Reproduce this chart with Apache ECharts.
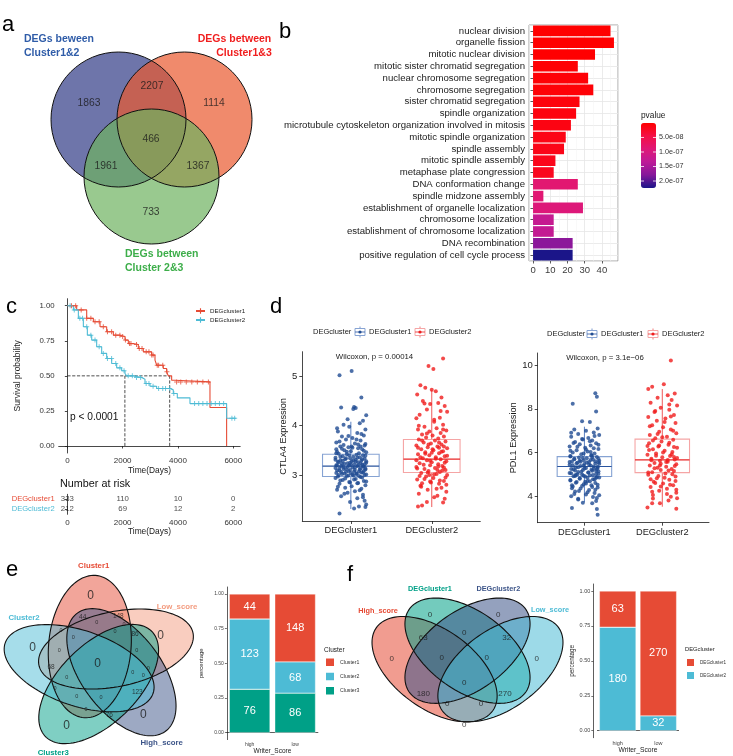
<!DOCTYPE html>
<html><head><meta charset="utf-8"><title>chart</title>
<script src="https://cdn.jsdelivr.net/npm/echarts@6.0.0/dist/echarts.min.js"></script>
<style>html,body{margin:0;padding:0;background:#fff;}#chart{width:733px;height:756px;}</style>
</head><body><div id="chart"></div>
<script>
// ================= DATA =================
// (a) Venn of DEG sets
const vennASets = ['DEGs beween|Cluster1&2', 'DEGs between|Cluster1&3', 'DEGs between|Cluster 2&3'];
const vennACounts = [1863, 2207, 1114, 466, 1961, 1367, 733];

// (b) GO enrichment
const goTerms = ['nuclear division','organelle fission','mitotic nuclear division','mitotic sister chromatid segregation',
  'nuclear chromosome segregation','chromosome segregation','sister chromatid segregation','spindle organization',
  'microtubule cytoskeleton organization involved in mitosis','mitotic spindle organization','spindle assembly',
  'mitotic spindle assembly','metaphase plate congression','DNA conformation change','spindle midzone assembly',
  'establishment of organelle localization','chromosome localization','establishment of chromosome localization',
  'DNA recombination','positive regulation of cell cycle process'];
const goCounts = [45,47,36,26,32,35,27,25,22,19,18,13,12,26,6,29,12,12,23,23];
const goPvalues = [2e-10,3e-10,1e-9,3e-9,4e-9,5e-9,8e-9,1.0e-8,1.2e-8,1.4e-8,1.6e-8,1.8e-8,2.0e-8,
  8.4e-8,8.6e-8,9.2e-8,1.24e-7,1.26e-7,1.74e-7,2.24e-7];
const pLegendTicks = [5e-8, 1e-7, 1.5e-7, 2e-7];
const pLegendLabels = ['5.0e-08','1.0e-07','1.5e-07','2.0e-07'];

// (c) Kaplan-Meier
const kmGroups = ['DEGcluster1','DEGcluster2'];
const km1Time = [0,337,699,940,1181,1422,1663,1904,2084,2205,2386,2566,2747,3048,3169,3229,3470,3590,3650,3771,3892,5157,5759];
const km1Surv = [1.0,0.97,0.91,0.886,0.85,0.814,0.79,0.78,0.755,0.73,0.724,0.695,0.671,0.648,0.612,0.576,0.552,0.529,0.50,0.469,0.457,0.274,0.0];
const km2Time = [0,217,398,578,723,880,1060,1241,1422,1602,1783,1964,2084,2145,2386,2687,2807,2988,3229,3711,3831,3976,4434,5759,6096];
const km2Surv = [1.0,0.97,0.91,0.85,0.79,0.755,0.707,0.66,0.624,0.588,0.557,0.536,0.517,0.50,0.488,0.476,0.445,0.426,0.41,0.40,0.374,0.343,0.302,0.198,0.198];
const km1Censor = [150,300,500,700,850,1000,1150,1300,1450,1600,1750,1900,2000,2100,2250,2300,2500,2600,2700,2850,2950,3050,3100,3250,3300,3450,3600,3950,4100,4300,4500,4700,4900,5100];
const km2Censor = [100,250,450,550,700,850,1000,1150,1300,1450,1600,1750,1900,2050,2200,2350,2500,2650,2850,2950,3100,3300,3450,3550,3700,3850,4600,4750,4900,5050,5200,5350,5500,5650,5950,6050];
const kmMedian = [3700, 2080];
const survTicks = [0, 0.25, 0.5, 0.75, 1];
const riskTimes = [0, 2000, 4000, 6000];
const risk1 = [333, 110, 10, 0];
const risk2 = [212, 69, 12, 2];

// (d) expression boxplots  [min, Q1, median, Q3, max]
const dGroups = ['DEGcluster1','DEGcluster2'];
const ctla4Box = [[2.31,2.97,3.18,3.42,4.08],[2.35,3.05,3.32,3.72,4.72]];
const pdl1Box = [[3.73,4.90,5.36,5.81,7.18],[3.52,5.08,5.66,6.61,8.90]];
const ctla4Ticks = [3,4,5];
const pdl1Ticks = [4,6,8,10];
const ctla4P = 'Wilcoxon, p = 0.00014';
const pdl1P = 'Wilcoxon, p = 3.1e\u221206';
// [jitter, value]
const ctla4G1 = [[-0.14,5.02],[0.01,5.11],[0.13,4.57],[0.04,4.38],[0.06,4.36],[-0.12,4.37],[0.03,4.34],[-0.04,4.13],[0.19,4.21],[0.15,4.10],[-0.09,4.02],[0.11,4.05],[-0.02,3.98],[0.18,3.92],[-0.16,3.88],[0.08,3.85],[0.16,3.80],[-0.11,3.78],[0.02,3.75],[-0.06,3.72],[0.12,3.70],[-0.18,3.66],[0.05,3.64],[0.17,3.60],[-0.13,3.58],[-0.03,3.56],[0.09,3.54],[0.14,3.52],[-0.08,3.50],[0.00,3.48],[-0.17,3.47],[0.19,3.46],
[-0.15,3.43],[-0.05,3.42],[0.07,3.41],[0.15,3.40],[-0.10,3.38],[0.03,3.37],[0.11,3.36],[-0.19,3.35],[-0.01,3.34],[0.17,3.33],[-0.07,3.32],[0.06,3.31],[-0.13,3.30],[0.13,3.29],[0.01,3.28],[-0.16,3.27],[0.09,3.26],[0.19,3.25],[-0.04,3.24],[-0.11,3.23],[0.04,3.22],[0.14,3.21],[-0.18,3.20],[-0.02,3.19],[0.08,3.18],[0.16,3.17],[-0.09,3.16],[0.02,3.15],[-0.14,3.14],[0.12,3.13],[-0.06,3.12],[0.18,3.11],[0.05,3.10],[-0.17,3.09],[-0.03,3.08],[0.10,3.07],[-0.12,3.06],[0.15,3.05],[0.00,3.04],[-0.08,3.03],[0.07,3.02],[0.19,3.01],[-0.15,3.00],[0.03,2.99],[-0.05,2.98],
[0.12,2.96],[-0.19,2.94],[0.06,2.92],[-0.10,2.90],[0.16,2.88],[-0.02,2.86],[0.09,2.84],[-0.14,2.82],[0.18,2.79],[0.01,2.77],[-0.07,2.74],[0.13,2.72],[-0.17,2.70],[0.05,2.67],[-0.04,2.64],[0.15,2.60],[-0.12,2.57],[0.08,2.53],[0.17,2.48],[-0.01,2.45],[0.19,2.40],[0.10,2.36],[0.04,2.32],[-0.14,2.22],
[-0.18,3.44],[0.10,3.44],[-0.02,3.40],[0.18,3.39],[-0.13,3.37],[0.08,3.35],[-0.06,3.34],[0.14,3.32],[-0.19,3.31],[0.03,3.30],[-0.10,3.29],[0.19,3.28],[0.06,3.27],[-0.15,3.26],[-0.01,3.25],[0.12,3.24],[-0.08,3.23],[0.17,3.22],[0.00,3.21],[-0.17,3.20],[0.09,3.19],[-0.12,3.18],[0.15,3.17],[-0.04,3.16],[0.05,3.15],[-0.19,3.14],[0.18,3.13],[-0.09,3.12],[0.11,3.11],[-0.01,3.10],[-0.14,3.09],[0.16,3.08],[0.04,3.07],[-0.06,3.06],[0.13,3.05],[-0.18,3.04],[0.07,3.03],[-0.11,3.02],[0.02,3.01],[0.17,3.00],[-0.03,2.99],[0.10,2.98],[-0.16,2.97],[0.14,2.95],[-0.07,2.93],[0.04,2.91],[-0.13,2.89],[0.19,2.87],[-0.01,2.85],[0.08,2.83],[-0.18,3.52],[0.02,3.55],[0.12,3.58],[-0.09,3.61],[0.18,3.63],[-0.14,3.68],[0.07,3.72],[-0.03,3.79],[0.13,3.83],[-0.17,3.95],[0.09,3.62],[-0.05,3.47],[0.16,3.49],[-0.11,3.53],[0.01,3.58],[-0.16,2.76],[0.11,2.69],[-0.08,2.62],[0.15,2.55],[0.18,2.35]];
const ctla4G2 = [[0.14,5.36],[-0.04,5.21],[0.02,5.15],[-0.14,4.82],[-0.08,4.77],[0.00,4.73],[0.05,4.70],[-0.18,4.63],[0.12,4.57],[-0.11,4.50],[0.08,4.46],[-0.02,4.44],[0.16,4.40],[-0.06,4.33],[0.19,4.28],[-0.15,4.22],[0.10,4.16],[-0.19,4.15],[0.03,4.08],[0.14,4.02],[-0.09,3.98],[0.06,3.95],[-0.17,3.92],[0.18,3.90],[-0.03,3.88],[0.11,3.85],[-0.12,3.82],[0.01,3.80],[0.15,3.78],[-0.07,3.76],[0.08,3.74],
[-0.16,3.72],[0.04,3.70],[0.17,3.68],[-0.10,3.66],[-0.01,3.64],[0.12,3.62],[-0.19,3.60],[0.07,3.58],[-0.05,3.56],[0.19,3.54],[-0.13,3.52],[0.02,3.50],[0.14,3.48],[-0.08,3.46],[0.09,3.44],[-0.17,3.42],[-0.03,3.40],[0.16,3.38],[0.05,3.36],[-0.11,3.34],[0.11,3.32],[-0.06,3.30],[0.18,3.28],[0.00,3.26],[-0.15,3.24],[0.08,3.22],[-0.02,3.20],[0.13,3.18],[-0.19,3.16],[0.04,3.14],[-0.09,3.12],[0.17,3.10],[-0.04,3.08],[0.10,3.06],
[-0.13,3.04],[0.06,3.02],[0.19,3.00],[-0.07,2.97],[0.02,2.94],[-0.18,2.91],[0.15,2.88],[-0.01,2.85],[0.09,2.82],[-0.14,2.78],[0.12,2.74],[-0.05,2.70],[0.18,2.66],[-0.16,2.62],[0.07,2.58],[0.16,2.52],[0.14,2.44],[-0.12,2.38],[-0.17,2.36],[-0.06,2.45],[0.03,2.55],
[-0.12,3.70],[0.09,3.66],[-0.04,3.62],[0.15,3.58],[-0.17,3.55],[0.01,3.52],[0.12,3.47],[-0.08,3.43],[0.19,3.39],[-0.14,3.36],[0.05,3.33],[-0.02,3.29],[0.16,3.25],[-0.10,3.21],[0.08,3.17],[-0.18,3.13],[0.13,3.09],[-0.05,3.05],[0.03,3.01],[-0.15,2.98],[0.17,2.95],[-0.09,2.92],[0.10,2.89],[-0.02,2.87],[0.18,2.80],[-0.13,2.76],[0.06,2.72],[-0.06,3.84],[0.14,3.92],[-0.16,4.00],[0.03,4.12],[0.11,4.30],[-0.09,4.45],[0.07,3.10],[-0.03,3.00],[0.15,3.15],[-0.19,3.30],[0.00,3.45],[0.09,3.55],[-0.12,2.83]];
const pdl1G1 = [[0.14,8.71],[0.16,8.55],[-0.15,8.23],[0.15,7.87],[-0.03,7.43],[0.07,7.40],[0.17,7.10],[-0.13,7.05],[0.02,7.00],[0.12,6.92],[-0.08,6.85],[0.19,6.80],[-0.17,6.72],[0.05,6.66],[-0.02,6.60],[0.10,6.55],[-0.12,6.48],[0.15,6.42],[-0.06,6.38],[0.08,6.32],[-0.19,6.28],[0.01,6.22],[0.18,6.16],[-0.10,6.10],[0.04,6.05],[-0.15,6.00],[0.13,5.96],[-0.04,5.92],[0.09,5.88],[-0.18,5.84],
[0.16,5.80],[-0.07,5.77],[0.03,5.74],[-0.13,5.71],[0.11,5.68],[-0.01,5.65],[0.19,5.62],[-0.16,5.59],[0.06,5.56],[-0.09,5.53],[0.14,5.50],[0.00,5.47],[-0.19,5.44],[0.08,5.41],[-0.05,5.38],[0.17,5.35],[-0.11,5.32],[0.02,5.29],[0.12,5.26],[-0.14,5.23],[-0.02,5.20],[0.10,5.17],[0.18,5.14],[-0.08,5.11],[0.05,5.08],[-0.17,5.05],[0.15,5.02],[-0.03,4.99],[0.07,4.96],[-0.12,4.93],[0.01,4.90],
[0.19,4.86],[-0.06,4.82],[0.11,4.78],[-0.18,4.74],[0.04,4.70],[-0.10,4.65],[0.14,4.60],[-0.01,4.55],[0.09,4.50],[-0.15,4.45],[0.17,4.40],[-0.05,4.35],[0.06,4.28],[-0.12,4.22],[0.13,4.15],[0.02,4.08],[-0.17,4.00],[0.16,3.92],[-0.08,3.85],[0.15,3.78],[-0.16,3.46],[0.16,3.42],[0.17,3.15],[-0.02,3.70],[0.10,3.68],
[-0.18,5.82],[0.10,5.79],[-0.02,5.75],[0.18,5.72],[-0.13,5.69],[0.08,5.66],[-0.06,5.63],[0.14,5.60],[-0.19,5.57],[0.03,5.54],[-0.10,5.51],[0.19,5.48],[0.06,5.45],[-0.15,5.42],[-0.01,5.39],[0.12,5.36],[-0.08,5.33],[0.17,5.30],[0.00,5.27],[-0.17,5.24],[0.09,5.21],[-0.12,5.18],[0.15,5.15],[-0.04,5.12],[0.05,5.09],[-0.19,5.06],[0.18,5.03],[-0.09,5.00],[0.11,4.97],[-0.01,4.94],[-0.14,4.91],[0.16,4.88],[0.04,4.84],[-0.06,4.80],[0.13,4.76],[-0.18,4.72],[0.07,4.68],[-0.11,4.62],[0.02,4.58],[0.17,4.52],[-0.03,4.47],[0.10,4.42],[-0.16,4.37],[0.14,4.30],[-0.07,4.24],[0.04,4.18],[-0.13,4.10],[0.19,4.04],[-0.01,5.95],[0.08,6.02],[-0.18,6.08],[0.02,6.14],[0.12,6.20],[-0.09,6.26],[0.18,6.35],[-0.14,6.44],[0.07,6.52],[-0.03,6.62],[0.13,6.75],[-0.17,6.90],[0.09,5.86],[-0.05,5.58],[0.16,5.25],[-0.11,4.98],[0.01,4.66],[-0.16,4.50],[0.11,3.96],[-0.08,3.88],[0.15,4.85],[0.18,5.55]];
const pdl1G2 = [[0.11,10.21],[0.02,9.12],[-0.13,9.01],[-0.18,8.90],[0.16,8.70],[0.07,8.62],[-0.06,8.50],[0.12,8.40],[-0.15,8.28],[0.19,8.15],[-0.02,8.05],[0.09,7.95],[-0.10,7.85],[0.15,7.72],[-0.18,7.62],[0.04,7.55],[-0.07,7.45],[0.17,7.35],[-0.13,7.25],[0.01,7.15],[0.11,7.05],[-0.04,6.95],[0.18,6.88],[-0.16,6.80],[0.06,6.72],[-0.09,6.65],
[0.14,6.58],[-0.01,6.50],[-0.17,6.42],[0.08,6.35],[-0.05,6.28],[0.19,6.22],[-0.12,6.15],[0.03,6.08],[0.13,6.02],[-0.08,5.96],[-0.19,5.90],[0.10,5.84],[0.00,5.78],[-0.14,5.72],[0.16,5.68],[-0.03,5.62],[0.07,5.58],[-0.10,5.52],[0.18,5.46],[-0.16,5.40],[0.05,5.35],[-0.06,5.30],[0.12,5.25],[-0.02,5.20],[0.15,5.15],[-0.13,5.10],
[0.04,5.04],[-0.18,4.98],[0.17,4.90],[-0.07,4.82],[0.09,4.75],[-0.11,4.66],[0.01,4.58],[0.14,4.50],[-0.15,4.42],[0.06,4.34],[-0.04,4.25],[0.18,4.16],[-0.12,4.06],[0.11,3.98],[0.19,3.91],[-0.13,3.68],[-0.03,3.68],[-0.19,3.49],[0.18,3.43],[0.08,3.80],
[-0.12,6.55],[0.09,6.45],[-0.04,6.32],[0.15,6.25],[-0.17,6.12],[0.01,6.00],[0.12,5.92],[-0.08,5.85],[0.19,5.75],[-0.14,5.64],[0.05,5.56],[-0.02,5.48],[0.16,5.38],[-0.10,5.28],[0.08,5.18],[-0.18,5.08],[0.13,5.00],[-0.05,4.92],[0.03,4.85],[-0.15,4.78],[0.17,4.70],[-0.09,4.60],[0.10,4.52],[-0.02,4.44],[0.18,4.30],[-0.13,4.20],[0.06,4.10],[-0.06,6.85],[0.14,7.00],[-0.16,7.20],[0.03,7.40],[0.11,7.65],[-0.09,7.90],[0.07,5.66],[-0.03,5.40],[0.15,5.80],[-0.19,6.30],[0.00,6.70],[0.09,8.20],[-0.12,3.90]];

// (e) 5-set Venn and stacked bars
const eSets = ['Cluster1','Low_score','High_score','Cluster3','Cluster2'];
const eRegionCounts = [0,0,0,0,0,0, 44,148,86,68,123,76, 0,0,0,0,0,0,0,0,0,0,0,0,0,0,0];
const scoreGroups = ['high','low'];
const pctTicks = [0, 0.25, 0.5, 0.75, 1];
const eClusters = ['Cluster1','Cluster2','Cluster3'];
const eHighCounts = [44, 123, 76];
const eLowCounts = [148, 68, 86];

// (f) 4-set Venn and stacked bars
const fSets = ['High_score','DEGcluster1','DEGcluster2','Low_score'];
const fRegionCounts = [0,0,0,0,63,0,32,0,0,180,0,270,0,0,0];
const fClusters = ['DEGcluster1','DEGcluster2'];
const fHighCounts = [63, 180];
const fLowCounts = [270, 32];

// ================= LAYOUT / STYLE =================
const FONT = '"Liberation Sans", Arial, Helvetica, sans-serif';
const RED = '#E64B35', CYAN = '#4DBBD5', TEAL = '#00A087', NAVY = '#3C5488', PEACH = '#F39B7F';
const grids = [], xAxes = [], yAxes = [], series = [], graphics = [];
const add = (arr, o) => (arr.push(o), arr.length - 1);
const hiddenVal = (g, min, max, inv) => ({gridIndex: g, type: 'value', min, max, inverse: !!inv, show: false});
function txt(x, y, text, size, opt) {
  opt = opt || {};
  return {type: 'text', x, y, rotation: opt.rot || 0, silent: true, z: 100,
    style: {text, fill: opt.color || '#1a1a1a', font: (opt.bold ? 'bold ' : '') + size + 'px ' + FONT,
      align: opt.align || 'left', verticalAlign: 'middle'}};
}
const AX = '#1a1a1a';

// pixel-space helper grid for venn label placement
const gP = add(grids, {left: 0, top: 0, width: 733, height: 756});
const xP = add(xAxes, hiddenVal(gP, 0, 733));
const yP = add(yAxes, hiddenVal(gP, 0, 756, true));
function labelSeries(counts, pos, fontSizeFn) {
  return {type: 'scatter', xAxisIndex: xP, yAxisIndex: yP, silent: true, z: 6, clip: false, symbolSize: 1,
    itemStyle: {color: 'rgba(0,0,0,0)'},
    data: counts.map((n, i) => ({value: [pos[i][0], pos[i][1]], n})),
    label: {show: true, position: 'inside', color: '#1a1a1a', formatter: p => String(p.data.n), fontSize: 11},
    labelLayout: p => ({fontSize: fontSizeFn(p.dataIndex)})};
}

// ---------- panel letters ----------
[['a',2,25.3],['b',279,32.3],['c',6,307.3],['d',270,307.3],['e',6,570.3],['f',347,575.3]]
  .forEach(l => graphics.push(txt(l[1], l[2], l[0], 22, {color: '#000'})));

// ---------- (a) ----------
const layA = {centers: [[118.5,119.5],[184.5,119.5],[151.5,176.5]], r: 67.5,
  fills: ['rgba(48,59,134,0.7)','rgba(233,88,45,0.7)','rgba(109,178,95,0.7)'],
  regionPos: [[89,103],[152,86],[214,103],[151,139],[106,166],[198,166],[151,212]],
  titlePos: [[24,39,'left',0],[234.5,39,'center',9.5],[125,254,'left',0]], titleColors: ['#2f5ca8','#f01e1e','#3dae4a']};
['fill','stroke'].forEach(mode => series.push({type: 'custom', xAxisIndex: xP, yAxisIndex: yP, silent: true, clip: false,
  z: mode === 'fill' ? 2 : 3, data: layA.centers.map((c, i) => [c[0], c[1], i]),
  renderItem: (p, api) => {
    const c = api.coord([api.value(0), api.value(1)]);
    const r = api.size([layA.r, 0])[0];
    return {type: 'circle', shape: {cx: c[0], cy: c[1], r},
      style: mode === 'fill' ? {fill: layA.fills[p.dataIndex], stroke: null} : {fill: null, stroke: '#111', lineWidth: 1}};
  }}));
series.push(labelSeries(vennACounts, layA.regionPos, () => 10.3));
vennASets.forEach((s, i) => {
  const [l1, l2] = s.split('|'); const tp = layA.titlePos[i];
  graphics.push(txt(tp[0], tp[1], l1, 10.5, {bold: true, color: layA.titleColors[i], align: tp[2]}));
  graphics.push(txt(tp[0] + tp[3], tp[1] + 14, l2, 10.5, {bold: true, color: layA.titleColors[i], align: tp[2]}));
});

// ---------- (b) ----------
const gB = add(grids, {left: 529, top: 25, width: 89, height: 236, show: true, borderColor: '#8c8c8c', borderWidth: 0.8, backgroundColor: '#fff'});
const xB = add(xAxes, {gridIndex: gB, type: 'value', min: -2.35, max: 49.35, splitNumber: 5,
  axisLine: {show: false}, axisTick: {show: true, length: 2.5, lineStyle: {color: '#333', width: 0.8}},
  axisLabel: {fontSize: 9.5, color: '#3a3a3a', margin: 4, showMinLabel: false, showMaxLabel: false},
  splitLine: {show: true, lineStyle: {color: '#e6e6e6', width: 0.8}},
  minorTick: {show: false, splitNumber: 2}, minorSplitLine: {show: true, lineStyle: {color: '#f3f3f3', width: 0.5}}});
const yB = add(yAxes, {gridIndex: gB, type: 'category', data: goTerms, inverse: true,
  axisLine: {show: false}, axisTick: {show: true, alignWithLabel: true, length: 2.5, lineStyle: {color: '#333', width: 0.8}},
  axisLabel: {fontSize: 9.6, color: '#1a1a1a', margin: 4, interval: 0}, splitLine: {show: false}});
add(yAxes, {gridIndex: gB, type: 'value', min: 0.5, max: goTerms.length + 0.5, inverse: true, splitNumber: goTerms.length,
  position: 'right', axisLine: {show: false}, axisTick: {show: false}, axisLabel: {show: false},
  splitLine: {show: true, lineStyle: {color: '#e6e6e6', width: 0.8}}});
const barBIndex = add(series, {type: 'bar', xAxisIndex: xB, yAxisIndex: yB, silent: true, barWidth: '90%', z: 3,
  data: goTerms.map((t, i) => [goCounts[i], i, goPvalues[i]]), encode: {x: 0, y: 1}});
const pMin = Math.min(...goPvalues), pMax = Math.max(...goPvalues);
const pBar = {left: 641, top: 123, w: 15, h: 65};
const pColors = ['#ff0000','#f40f45','#df1877','#bd1a98','#85179a','#1b1589'];
graphics.push(txt(pBar.left, 116, 'pvalue', 8.3, {color: '#1a1a1a'}));
pLegendTicks.forEach((v, i) => {
  const y = pBar.top + (v - pMin) / (pMax - pMin) * pBar.h;
  graphics.push(txt(pBar.left + pBar.w + 3, y, pLegendLabels[i], 7.2, {color: '#333'}));
  graphics.push({type: 'line', silent: true, z: 101, shape: {x1: pBar.left, y1: y, x2: pBar.left + 3, y2: y}, style: {stroke: '#fff', lineWidth: 0.8}});
  graphics.push({type: 'line', silent: true, z: 101, shape: {x1: pBar.left + pBar.w - 3, y1: y, x2: pBar.left + pBar.w, y2: y}, style: {stroke: '#fff', lineWidth: 0.8}});
});

// ---------- (c) ----------
const PLUS = 'path://M4,0H6V4H10V6H6V10H4V6H0V4H4Z';
const kmColors = [RED, CYAN];
const gK = add(grids, {left: 58.7, top: 298.7, width: 181.5, height: 154.3});
const kmX = (g, name, gap) => ({gridIndex: g, type: 'value', min: -313, max: 6250, splitNumber: 3,
  axisLine: {lineStyle: {color: AX, width: 0.8}}, axisTick: {length: 2.5, lineStyle: {color: AX, width: 0.8}},
  axisLabel: {fontSize: 8, color: '#333', margin: 4, showMinLabel: false, showMaxLabel: false, formatter: v => String(v)},
  splitLine: {show: false}, name, nameLocation: 'middle', nameGap: gap, nameTextStyle: {fontSize: 8.4, color: '#1a1a1a'}});
const xK = add(xAxes, kmX(gK, 'Time(Days)', 14));
const yK = add(yAxes, {gridIndex: gK, type: 'value', min: -0.05, max: 1.05,
  axisLine: {show: true, lineStyle: {color: AX, width: 0.8}},
  axisTick: {show: true, length: 2.5, customValues: survTicks, lineStyle: {color: AX, width: 0.8}},
  axisLabel: {customValues: survTicks, formatter: v => Number(v).toFixed(2), fontSize: 7.8, color: '#333', margin: 4},
  splitLine: {show: false}, name: 'Survival probability', nameLocation: 'middle', nameGap: 37,
  nameTextStyle: {fontSize: 8.5, color: '#1a1a1a'}});
function survAt(times, surv, t) { let s = surv[0]; for (let i = 0; i < times.length; i++) { if (times[i] <= t) s = surv[i]; else break; } return s; }
const kmSets = [[km1Time, km1Surv, km1Censor], [km2Time, km2Surv, km2Censor]];
kmSets.forEach((k, gi) => {
  series.push({type: 'line', name: kmGroups[gi], xAxisIndex: xK, yAxisIndex: yK, step: 'end', silent: true,
    showSymbol: false, symbol: PLUS, symbolSize: 6, color: kmColors[gi], lineStyle: {width: 1.1}, z: 4,
    data: k[0].map((t, i) => [t, k[1][i]])});
  series.push({type: 'scatter', xAxisIndex: xK, yAxisIndex: yK, silent: true, symbol: PLUS, symbolSize: 5, z: 5,
    itemStyle: {color: kmColors[gi]}, data: k[2].map(t => [t, survAt(k[0], k[1], t)])});
});
const medDash = {type: 'dashed', width: 0.8, color: '#222'};
series.push({type: 'line', xAxisIndex: xK, yAxisIndex: yK, silent: true, symbol: 'none', lineStyle: medDash, z: 3,
  data: [[0, 0.5], [Math.max(...kmMedian), 0.5]]});
kmMedian.forEach(m => series.push({type: 'line', xAxisIndex: xK, yAxisIndex: yK, silent: true, symbol: 'none',
  lineStyle: medDash, z: 3, data: [[m, 0], [m, 0.5]]}));
graphics.push(txt(70, 417, 'p < 0.0001', 10.2, {color: '#111'}));
// risk table
const gR = add(grids, {left: 58.7, top: 494.3, width: 181.5, height: 20});
const xR = add(xAxes, kmX(gR, 'Time(Days)', 13));
const yR = add(yAxes, {gridIndex: gR, type: 'category', data: kmGroups, inverse: true,
  axisLine: {lineStyle: {color: AX, width: 0.8}}, axisTick: {show: true, alignWithLabel: true, length: 2.5, lineStyle: {color: AX, width: 0.8}},
  axisLabel: {fontSize: 7.6, margin: 4, interval: 0, color: (v, i) => kmColors[i]}});
[risk1, risk2].forEach((r, gi) => series.push({type: 'scatter', xAxisIndex: xR, yAxisIndex: yR, silent: true,
  symbolSize: 1, itemStyle: {color: 'rgba(0,0,0,0)'}, data: riskTimes.map((t, i) => ({value: [t, gi], n: r[i]})),
  label: {show: true, position: 'inside', formatter: p => String(p.data.n), fontSize: 7.8, color: '#1a1a1a'}}));
graphics.push(txt(60, 484, 'Number at risk', 10.8, {color: '#111'}));

// ---------- (d) ----------
const dStyle = {box: ['#86a3d3', '#f5a5a5'], whisk: ['#5a80c2', '#ef5a5a'], med: ['#2a549e', '#e82626'], pts: ['#1f4b92', '#f01c1c']};
function boxPanel(gridPos, yMin, yMax, ticks, yName, nameGap, boxes, g1, g2, ptext, ptextPos) {
  const g = add(grids, gridPos);
  const xi = add(xAxes, {gridIndex: g, type: 'value', min: 0.4, max: 2.6,
    axisLine: {lineStyle: {color: AX, width: 0.8}}, axisTick: {customValues: [1, 2], length: 3, lineStyle: {color: AX, width: 0.8}},
    axisLabel: {customValues: [1, 2], formatter: v => dGroups[Math.round(v) - 1], fontSize: 9.3, color: '#222', margin: 5},
    splitLine: {show: false}});
  const yi = add(yAxes, {gridIndex: g, type: 'value', min: yMin, max: yMax,
    axisLine: {show: true, lineStyle: {color: AX, width: 0.8}},
    axisTick: {show: true, customValues: ticks, length: 3, lineStyle: {color: AX, width: 0.8}},
    axisLabel: {customValues: ticks, fontSize: 9.5, color: '#222', margin: 5},
    splitLine: {show: false}, name: yName, nameLocation: 'middle', nameGap, nameTextStyle: {fontSize: 9.2, color: '#1a1a1a'}});
  series.push({type: 'custom', xAxisIndex: xi, yAxisIndex: yi, silent: true, clip: false, z: 2,
    data: boxes.map((b, i) => [i + 1, ...b]),
    renderItem: (p, api) => {
      const x = api.value(0), k = p.dataIndex;
      const pt = v => api.coord([x, api.value(v)]);
      const mn = pt(1), q1 = pt(2), md = pt(3), q3 = pt(4), mx = pt(5);
      const w = api.size([0.7, 0])[0];
      return {type: 'group', children: [
        {type: 'line', shape: {x1: mx[0], y1: mx[1], x2: q3[0], y2: q3[1]}, style: {stroke: dStyle.whisk[k], lineWidth: 1}},
        {type: 'line', shape: {x1: q1[0], y1: q1[1], x2: mn[0], y2: mn[1]}, style: {stroke: dStyle.whisk[k], lineWidth: 1}},
        {type: 'rect', shape: {x: q3[0] - w / 2, y: q3[1], width: w, height: q1[1] - q3[1]}, style: {fill: null, stroke: dStyle.box[k], lineWidth: 1.1}},
        {type: 'line', shape: {x1: md[0] - w / 2, y1: md[1], x2: md[0] + w / 2, y2: md[1]}, style: {stroke: dStyle.med[k], lineWidth: 1.2}}
      ]};
    }});
  [g1, g2].forEach((pts, gi) => series.push({type: 'scatter', xAxisIndex: xi, yAxisIndex: yi, silent: true, z: 3,
    symbolSize: 4, itemStyle: {color: dStyle.pts[gi]}, data: pts.map(q => [gi + 1 + q[0], q[1]])}));
  graphics.push(txt(ptextPos[0], ptextPos[1], ptext, 7.8, {align: 'center', color: '#1a1a1a'}));
}
boxPanel({left: 302.3, top: 351.7, width: 178, height: 169.3}, 2.067, 5.5, ctla4Ticks, 'CTLA4 Expression', 9,
  ctla4Box, ctla4G1, ctla4G2, ctla4P, [374.5, 356.7]);
boxPanel({left: 537.7, top: 353, width: 171.3, height: 169.7}, 2.79, 10.55, pdl1Ticks, 'PDL1 Expression', 14,
  pdl1Box, pdl1G1, pdl1G2, pdl1P, [605, 357.7]);
function dLegend(x0, y, xs) {
  graphics.push(txt(x0, y, 'DEGcluster', 7.5, {color: '#1a1a1a'}));
  [0, 1].forEach(k => {
    const cx = xs[k];
    graphics.push({type: 'line', silent: true, z: 100, shape: {x1: cx, y1: y - 5.5, x2: cx, y2: y + 5.5}, style: {stroke: dStyle.whisk[k], lineWidth: 0.8}});
    graphics.push({type: 'rect', silent: true, z: 100, shape: {x: cx - 5, y: y - 3.5, width: 10, height: 7}, style: {fill: '#fff', stroke: dStyle.box[k], lineWidth: 1}});
    graphics.push({type: 'line', silent: true, z: 100, shape: {x1: cx - 5, y1: y, x2: cx + 5, y2: y}, style: {stroke: dStyle.med[k], lineWidth: 0.8}});
    graphics.push({type: 'circle', silent: true, z: 101, shape: {cx, cy: y, r: 1.6}, style: {fill: dStyle.pts[k]}});
    graphics.push(txt(cx + 9, y, dGroups[k], 7.5, {color: '#1a1a1a'}));
  });
}
dLegend(313, 332, [360, 420]);
dLegend(547, 334, [592, 653]);

// ---------- ellipse venn helper ----------
function ellipseSeries(xi, yi, ells, fills) {
  ['fill', 'stroke'].forEach(mode => series.push({type: 'custom', xAxisIndex: xi, yAxisIndex: yi, silent: true, clip: false,
    z: mode === 'fill' ? 2 : 3, data: ells.map((e, i) => [e.cx, e.cy, i]),
    renderItem: (p, api) => {
      const e = ells[p.dataIndex]; const ca = Math.cos(e.ang), sa = Math.sin(e.ang); const pts = [];
      for (let k = 0; k < 120; k++) {
        const t = k / 120 * 2 * Math.PI; const ex = e.A * Math.cos(t), ey = e.B * Math.sin(t);
        pts.push(api.coord([e.cx + ex * ca - ey * sa, e.cy + ex * sa + ey * ca]));
      }
      return {type: 'polygon', shape: {points: pts},
        style: mode === 'fill' ? {fill: fills[p.dataIndex], stroke: null} : {fill: null, stroke: '#111', lineWidth: 1.1}};
    }}));
}

// ---------- (e) ----------
const layE = {grid: {left: 15, top: 586.5, width: 172, height: 155}, d: 0.13, A: 0.46, B: 0.24, alpha0: 120, beta0: 86, step: -72,
  fills: ['rgba(230,75,53,0.5)','rgba(243,155,127,0.5)','rgba(60,84,136,0.5)','rgba(0,160,135,0.5)','rgba(77,187,213,0.5)'],
  labelColors: [RED, PEACH, NAVY, TEAL, CYAN],
  labelPos: [[93.7,566],[177,606.7],[161.7,742.7],[53.3,752.7],[24,617.7]],
  regionPos: [[90.7,596],[160.7,636],[32.7,648],[97.7,664],[143.3,715],[66.7,725.7],
    [82.7,617.7],[118.3,616.7],[135,634],[51,667.3],[137.3,692.3],[109.3,715],
    [61,630],[73.3,637.3],[96.7,622.7],[115,631.7],[124,624],[136.7,650],[148.3,668.3],[132.7,672.7],[143.3,675],
    [59.3,650.7],[66.7,677.3],[55,688.3],[76.7,696.7],[86,709.3],[101,697.7],[122.7,696],[100,710]]};
const gE = add(grids, layE.grid);
const xE = add(xAxes, hiddenVal(gE, 0, 1)), yE = add(yAxes, hiddenVal(gE, 0, 1));
const rad = Math.PI / 180;
const ellE = eSets.map((s, i) => {
  const a = (layE.alpha0 + i * layE.step) * rad, b = (layE.beta0 + i * layE.step) * rad;
  return {cx: 0.5 + layE.d * Math.cos(a), cy: 0.5 + layE.d * Math.sin(a), A: layE.A, B: layE.B, ang: b};
});
ellipseSeries(xE, yE, ellE, layE.fills);
series.push(labelSeries(eRegionCounts.slice(0, layE.regionPos.length), layE.regionPos, i => (i < 6 ? 12 : (i < 12 ? 6.5 : 5.5))));
eSets.forEach((s, i) => graphics.push(txt(layE.labelPos[i][0], layE.labelPos[i][1], s, 7.8, {bold: true, color: layE.labelColors[i], align: 'center'})));

// stacked percentage bars
function stackPanel(gridPos, yOffset, barW, names, highCounts, lowCounts, colors, prefix, fs, nameGaps) {
  const g = add(grids, gridPos);
  const xi = add(xAxes, {gridIndex: g, type: 'category', data: scoreGroups,
    axisLine: {lineStyle: {color: AX, width: 0.7}}, axisTick: {alignWithLabel: true, length: 2, lineStyle: {color: AX, width: 0.6}},
    axisLabel: {fontSize: fs.tick, color: '#444', margin: 2.5},
    name: 'Writer_Score', nameLocation: 'middle', nameGap: nameGaps[0], nameTextStyle: {fontSize: fs.name, color: '#1a1a1a'}});
  const yi = add(yAxes, {gridIndex: g, type: 'value', min: -0.05, max: 1.05, offset: yOffset,
    axisLine: {show: true, lineStyle: {color: AX, width: 0.7}}, axisTick: {show: true, customValues: pctTicks, length: 2, lineStyle: {color: AX, width: 0.6}},
    axisLabel: {customValues: pctTicks, formatter: v => Number(v).toFixed(2), fontSize: fs.tick, color: '#444', margin: 3},
    splitLine: {show: false}, name: 'percentage', nameLocation: 'middle', nameGap: nameGaps[1], nameTextStyle: {fontSize: fs.yname, color: '#1a1a1a'}});
  const hs = highCounts.reduce((a, b) => a + b, 0), ls = lowCounts.reduce((a, b) => a + b, 0);
  for (let k = names.length - 1; k >= 0; k--) {
    series.push({type: 'bar', name: prefix + names[k], xAxisIndex: xi, yAxisIndex: yi, stack: prefix + 'stk', silent: true,
      barWidth: barW, itemStyle: {color: colors[k], borderColor: '#fff', borderWidth: 0.4},
      data: [{value: highCounts[k] / hs, n: highCounts[k]}, {value: lowCounts[k] / ls, n: lowCounts[k]}],
      label: {show: true, position: 'inside', color: '#fff', fontSize: fs.bar, formatter: p => String(p.data.n)}});
  }
}
stackPanel({left: 226.9, top: 587, width: 91, height: 153}, 0, 40.7, eClusters, eHighCounts, eLowCounts,
  [RED, CYAN, TEAL], '', {tick: 5, name: 6.5, yname: 6, bar: 11}, [8, 23]);
graphics.push(txt(324, 650, 'Cluster', 6.5, {color: '#1a1a1a'}));

// ---------- (f) ----------
const layF = {grid: {left: 357.75, top: 571.25, width: 219.5, height: 219.5}, A: 0.35, B: 0.2,
  ells: [[0.35, 0.47, -45], [0.5, 0.57, -45], [0.5, 0.57, 45], [0.65, 0.47, 45]],
  fills: ['rgba(230,75,53,0.55)','rgba(0,160,135,0.55)','rgba(60,84,136,0.55)','rgba(77,187,213,0.55)'],
  labelColors: [RED, TEAL, NAVY, CYAN],
  labelPos: [[378,611],[430,589.3],[498.3,589.3],[550,610]],
  regionPos: [[391.7,658.3],[430,615],[498.3,615],[536.7,658.3],[423.3,637.7],[464.3,632.7],[506.7,637.7],
    [441.7,657.7],[486.7,657.7],[423.3,694],[464.3,682.7],[505,694],[447.3,703.3],[481,703.3],[464.3,725]]};
const gF = add(grids, layF.grid);
const xF = add(xAxes, hiddenVal(gF, 0, 1)), yF = add(yAxes, hiddenVal(gF, 0, 1));
ellipseSeries(xF, yF, layF.ells.map(e => ({cx: e[0], cy: e[1], A: layF.A, B: layF.B, ang: e[2] * rad})), layF.fills);
series.push(labelSeries(fRegionCounts, layF.regionPos, () => 8));
fSets.forEach((s, i) => graphics.push(txt(layF.labelPos[i][0], layF.labelPos[i][1], s, 7.3, {bold: true, color: layF.labelColors[i], align: 'center'})));
stackPanel({left: 597.4, top: 584, width: 81.2, height: 153.7}, 4.1, 36.6, fClusters, fHighCounts, fLowCounts,
  [RED, CYAN], 'f:', {tick: 5.5, name: 6.7, yname: 6.4, bar: 11}, [8, 15]);
graphics.push(txt(685, 649, 'DEGcluster', 5.8, {color: '#1a1a1a'}));

// ================= OPTION =================
const option = {
  animation: false,
  backgroundColor: '#fff',
  textStyle: {fontFamily: FONT},
  grid: grids, xAxis: xAxes, yAxis: yAxes, series,
  visualMap: [{type: 'continuous', seriesIndex: barBIndex, dimension: 2, min: pMin, max: pMax, inRange: {color: pColors},
    orient: 'vertical', inverse: true, left: pBar.left, top: pBar.top, itemWidth: pBar.w, itemHeight: pBar.h,
    padding: 0, calculable: false, realtime: false, text: null, showLabel: false, hoverLink: false}],
  legend: [
    {data: kmGroups, orient: 'vertical', left: 195, top: 308, itemWidth: 9, itemHeight: 7, itemGap: 3, padding: 0,
      selectedMode: false, textStyle: {fontSize: 6.2, color: '#222'}},
    {data: eClusters, orient: 'vertical', left: 324, top: 656.5, itemWidth: 10, itemHeight: 9.5, itemGap: 2.8, padding: 0,
      icon: 'rect', selectedMode: false, textStyle: {fontSize: 5.2, color: '#333'}},
    {data: fClusters.map(n => 'f:' + n), formatter: n => n.slice(2), orient: 'vertical', left: 685, top: 657,
      itemWidth: 9, itemHeight: 9, itemGap: 2, padding: 0, icon: 'rect', selectedMode: false,
      textStyle: {fontSize: 4.6, color: '#333'}}
  ],
  graphic: {elements: graphics}
};
const chart = echarts.init(document.getElementById('chart'), null, {renderer: 'canvas'});
chart.setOption(option);
</script></body></html>
